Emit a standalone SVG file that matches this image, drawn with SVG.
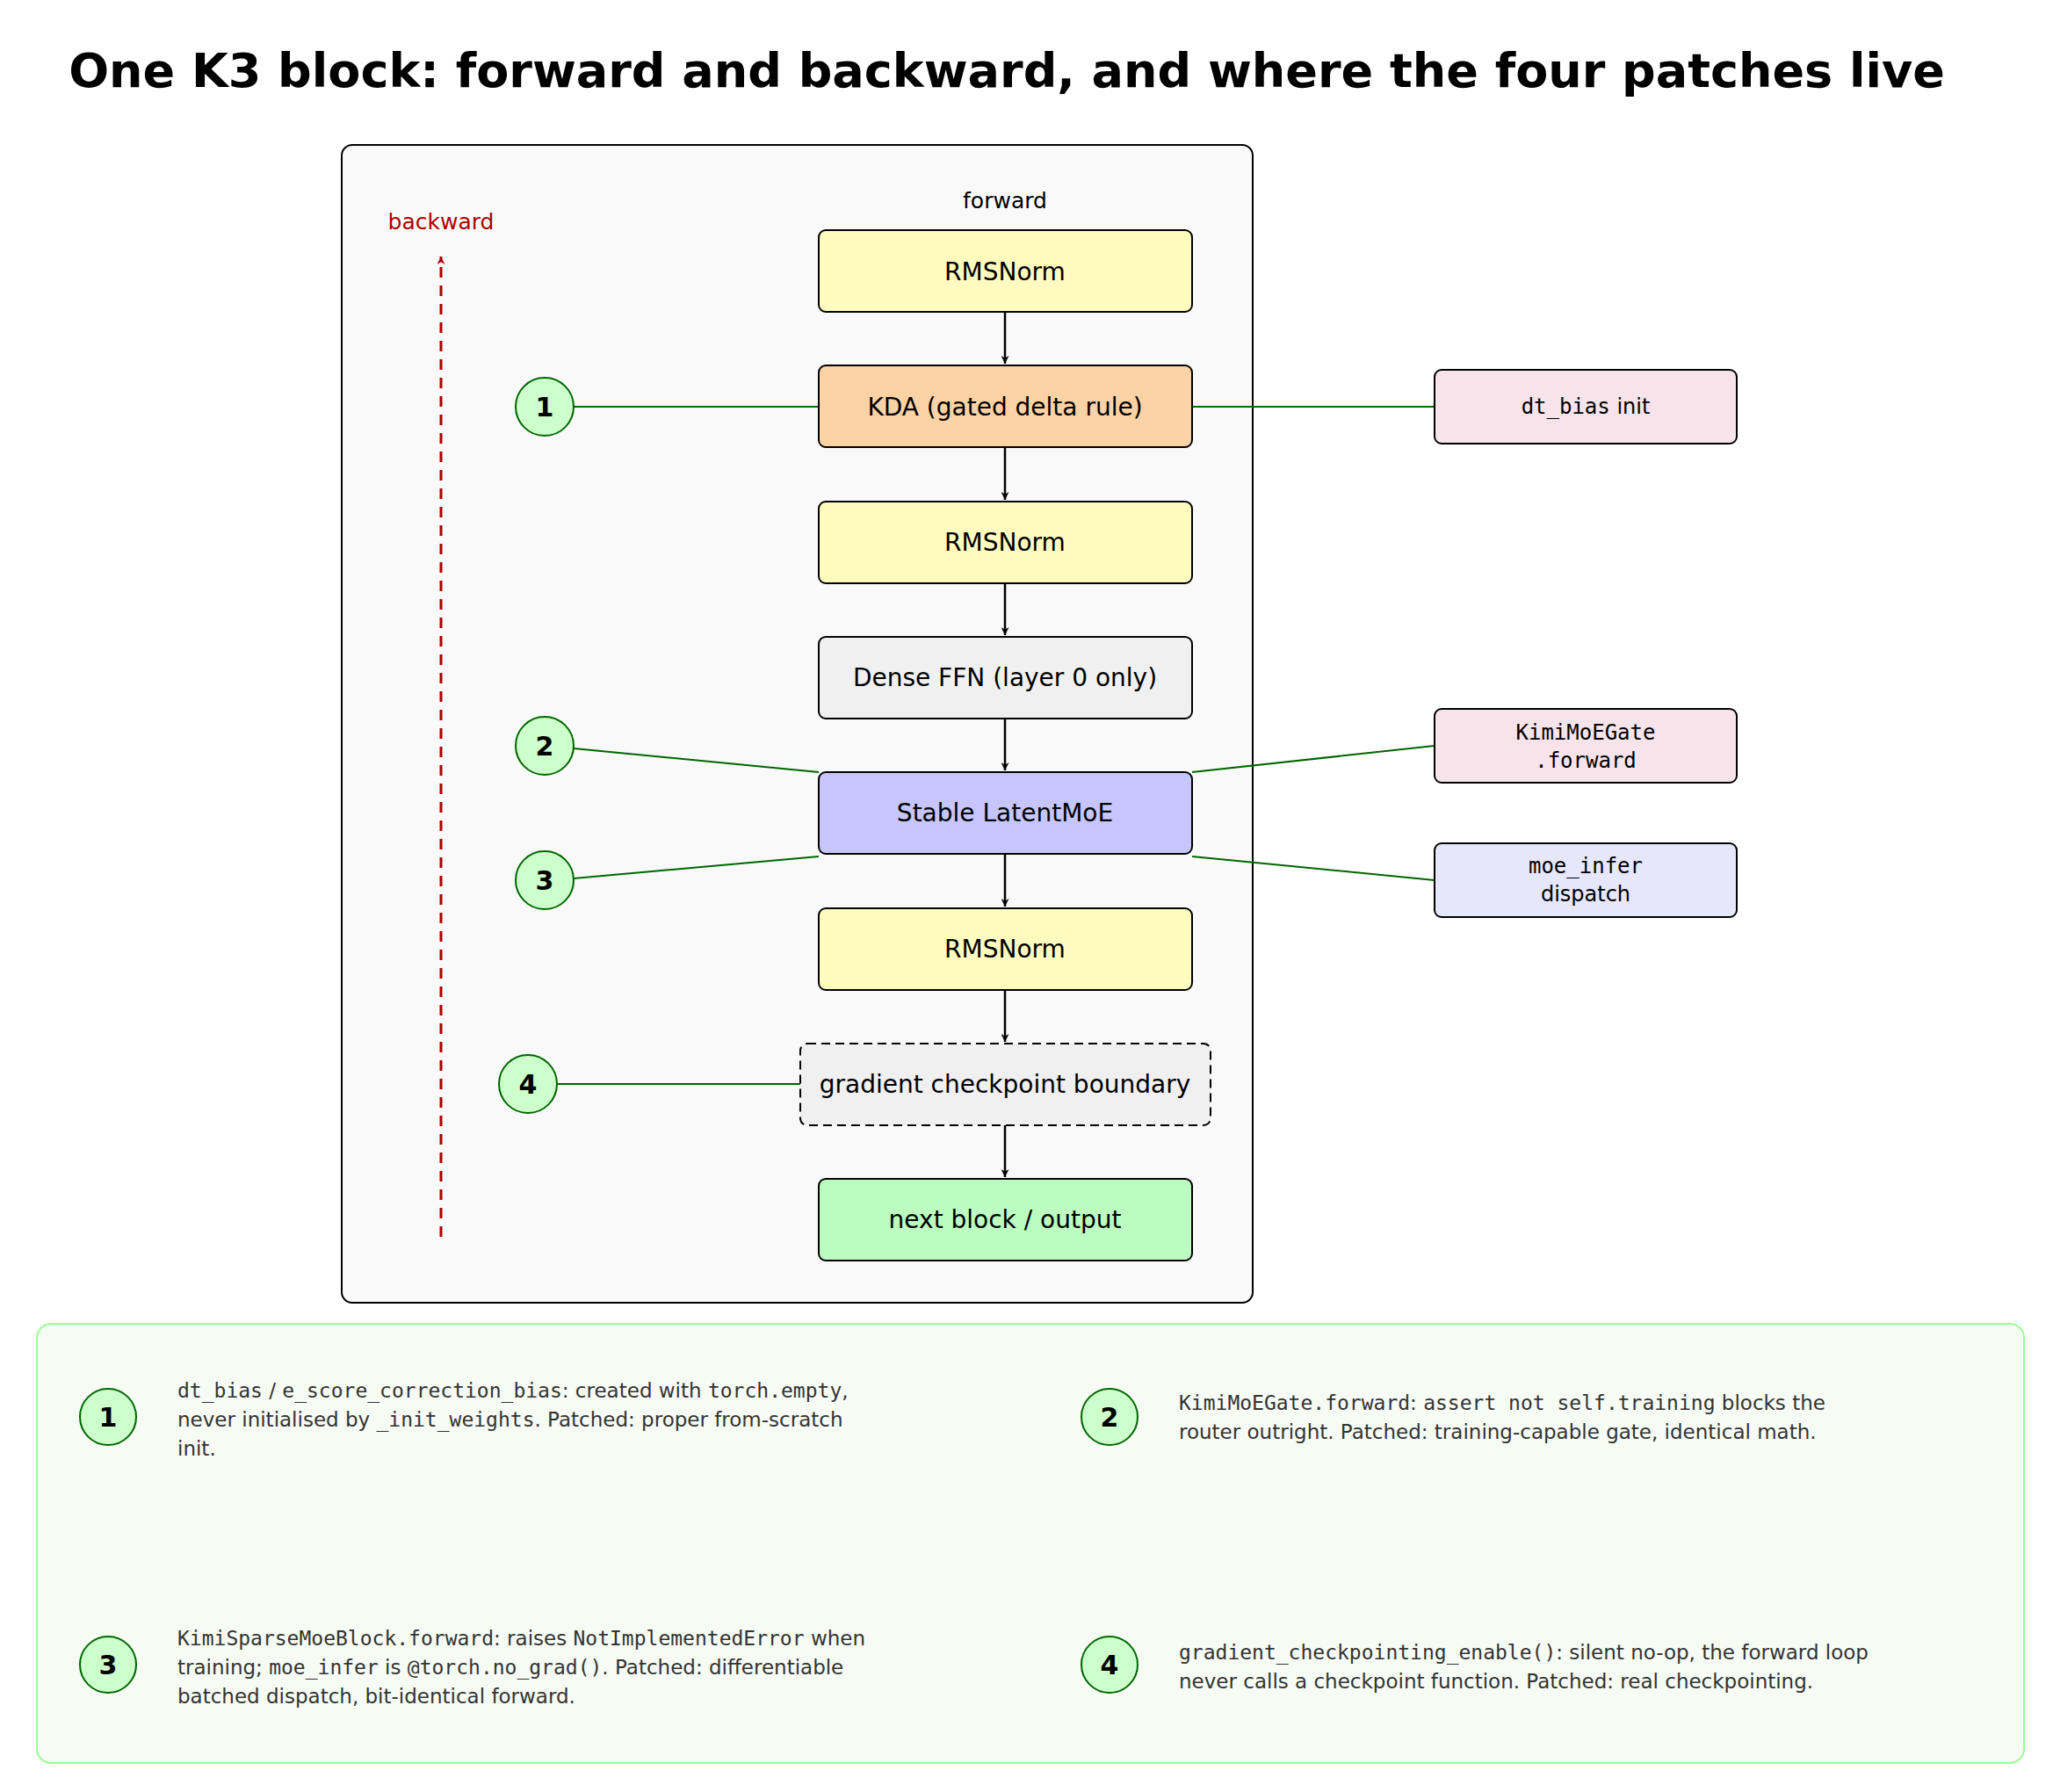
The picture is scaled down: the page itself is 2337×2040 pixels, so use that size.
<svg xmlns="http://www.w3.org/2000/svg" width="2337" height="2040" viewBox="0 0 2337 2040">
<defs>
<marker id="ar" viewBox="0 0 10 10" refX="10" refY="5" markerWidth="9" markerHeight="9" markerUnits="userSpaceOnUse" orient="auto"><path d="M0,0 L10,5 L0,10 L3,5 z" fill="#000"/></marker>
<marker id="arr" viewBox="0 0 10 10" refX="10" refY="5" markerWidth="9" markerHeight="9" markerUnits="userSpaceOnUse" orient="auto"><path d="M0,0 L10,5 L0,10 L3,5 z" fill="#b00000"/></marker>
</defs>
<style>
text{font-family:"DejaVu Sans","Liberation Sans",sans-serif}
.n{stroke:#000;stroke-width:2}
.t{font-size:28px;text-anchor:middle;dominant-baseline:central;fill:#000}
.m{font-family:"DejaVu Sans Mono","Liberation Mono",monospace}
.s{font-size:24px;text-anchor:middle;dominant-baseline:central}
.c{fill:#ccffcc;stroke:#006600;stroke-width:2}
.cn{font-size:30px;font-weight:bold;text-anchor:middle;dominant-baseline:central}
.g{stroke:#006600;stroke-width:2;fill:none}
.a{stroke:#000;stroke-width:2.5;marker-end:url(#ar)}
.nt{font-size:23px;fill:#333}
</style>
<rect width="2337" height="2040" fill="#fff"/>
<text x="1146" y="80" font-size="54" font-weight="bold" text-anchor="middle" dominant-baseline="central">One K3 block: forward and backward, and where the four patches live</text>
<rect x="389" y="165" width="1037" height="1318" rx="12" fill="#f9f9f9" stroke="#000" stroke-width="2"/>
<text x="1144" y="228" font-size="25" text-anchor="middle" dominant-baseline="central">forward</text>
<text x="502" y="252" font-size="25" text-anchor="middle" dominant-baseline="central" fill="#b00000">backward</text>
<g id="connectors">
<line x1="502" y1="1408" x2="502" y2="292" stroke="#b00000" stroke-width="3" stroke-dasharray="12,9" marker-end="url(#arr)"/>
<line class="a" x1="1144" y1="355" x2="1144" y2="414"/>
<line class="a" x1="1144" y1="509" x2="1144" y2="569"/>
<line class="a" x1="1144" y1="664" x2="1144" y2="723"/>
<line class="a" x1="1144" y1="818" x2="1144" y2="877"/>
<line class="a" x1="1144" y1="972" x2="1144" y2="1032"/>
<line class="a" x1="1144" y1="1127" x2="1144" y2="1186"/>
<line class="a" x1="1144" y1="1281" x2="1144" y2="1340"/>
<line class="g" x1="653" y1="463" x2="932" y2="463"/>
<line class="g" x1="653" y1="852" x2="932" y2="879"/>
<line class="g" x1="653" y1="1000" x2="932" y2="975"/>
<line class="g" x1="634" y1="1234" x2="911" y2="1234"/>
<line class="g" x1="1357" y1="463" x2="1633" y2="463"/>
<line class="g" x1="1357" y1="879" x2="1633" y2="849"/>
<line class="g" x1="1357" y1="975" x2="1633" y2="1002"/>
</g>
<g id="n1"><rect class="n" x="932" y="262" width="425" height="93" rx="8" fill="#fefbbf"/><text class="t" x="1144" y="309">RMSNorm</text></g>
<g id="n2"><rect class="n" x="932" y="416" width="425" height="93" rx="8" fill="#fdd2a4"/><text class="t" x="1144" y="463">KDA (gated delta rule)</text></g>
<g id="n3"><rect class="n" x="932" y="571" width="425" height="93" rx="8" fill="#fefbbf"/><text class="t" x="1144" y="617">RMSNorm</text></g>
<g id="n4"><rect class="n" x="932" y="725" width="425" height="93" rx="8" fill="#f0f0f0"/><text class="t" x="1144" y="771">Dense FFN (layer 0 only)</text></g>
<g id="n5"><rect class="n" x="932" y="879" width="425" height="93" rx="8" fill="#c6c6fc"/><text class="t" x="1144" y="925">Stable LatentMoE</text></g>
<g id="n6"><rect class="n" x="932" y="1034" width="425" height="93" rx="8" fill="#fefbbf"/><text class="t" x="1144" y="1080">RMSNorm</text></g>
<g id="n7"><rect class="n" x="911" y="1188" width="467" height="93" rx="8" fill="#f0f0f0" stroke-dasharray="10,6"/><text class="t" x="1144" y="1234">gradient checkpoint boundary</text></g>
<g id="n8"><rect class="n" x="932" y="1342" width="425" height="93" rx="8" fill="#bdfcc0"/><text class="t" x="1144" y="1388">next block / output</text></g>
<g id="p1"><rect class="n" x="1633" y="421" width="344" height="84" rx="8" fill="#f7e4ea"/><text class="s" x="1805" y="463"><tspan class="m">dt_bias</tspan> init</text></g>
<g id="p2"><rect class="n" x="1633" y="807" width="344" height="84" rx="8" fill="#f7e4ea"/><text class="s m" x="1805" y="834">KimiMoEGate</text><text class="s m" x="1805" y="866">.forward</text></g>
<g id="p3"><rect class="n" x="1633" y="960" width="344" height="84" rx="8" fill="#e7e7fb"/><text class="s m" x="1805" y="986">moe_infer</text><text class="s" x="1805" y="1018">dispatch</text></g>
<g id="c1"><circle class="c" cx="620" cy="463" r="33"/><text class="cn" x="620" y="463">1</text></g>
<g id="c2"><circle class="c" cx="620" cy="849" r="33"/><text class="cn" x="620" y="849">2</text></g>
<g id="c3"><circle class="c" cx="620" cy="1002" r="33"/><text class="cn" x="620" y="1002">3</text></g>
<g id="c4"><circle class="c" cx="601" cy="1234" r="33"/><text class="cn" x="601" y="1234">4</text></g>
<g id="legend">
<rect x="42" y="1507" width="2262" height="500" rx="16" fill="#f6fcf4" stroke="#99ff99" stroke-width="2"/>
<circle class="c" cx="123" cy="1613" r="32"/><text class="cn" x="123" y="1613">1</text>
<circle class="c" cx="1263" cy="1613" r="32"/><text class="cn" x="1263" y="1613">2</text>
<circle class="c" cx="123" cy="1895" r="32"/><text class="cn" x="123" y="1895">3</text>
<circle class="c" cx="1263" cy="1895" r="32"/><text class="cn" x="1263" y="1895">4</text>
<text class="nt" x="202" y="1591"><tspan class="m">dt_bias</tspan> / <tspan class="m">e_score_correction_bias</tspan>: created with <tspan class="m">torch.empty</tspan>,</text>
<text class="nt" x="202" y="1624">never initialised by <tspan class="m">_init_weights</tspan>. Patched: proper from-scratch</text>
<text class="nt" x="202" y="1657">init.</text>
<text class="nt" x="1342" y="1605"><tspan class="m">KimiMoEGate.forward</tspan>: <tspan class="m">assert not self.training</tspan> blocks the</text>
<text class="nt" x="1342" y="1638">router outright. Patched: training-capable gate, identical math.</text>
<text class="nt" x="202" y="1873"><tspan class="m">KimiSparseMoeBlock.forward</tspan>: raises <tspan class="m">NotImplementedError</tspan> when</text>
<text class="nt" x="202" y="1906">training; <tspan class="m">moe_infer</tspan> is <tspan class="m">@torch.no_grad()</tspan>. Patched: differentiable</text>
<text class="nt" x="202" y="1939">batched dispatch, bit-identical forward.</text>
<text class="nt" x="1342" y="1889"><tspan class="m">gradient_checkpointing_enable()</tspan>: silent no-op, the forward loop</text>
<text class="nt" x="1342" y="1922">never calls a checkpoint function. Patched: real checkpointing.</text>
</g>
</svg>
